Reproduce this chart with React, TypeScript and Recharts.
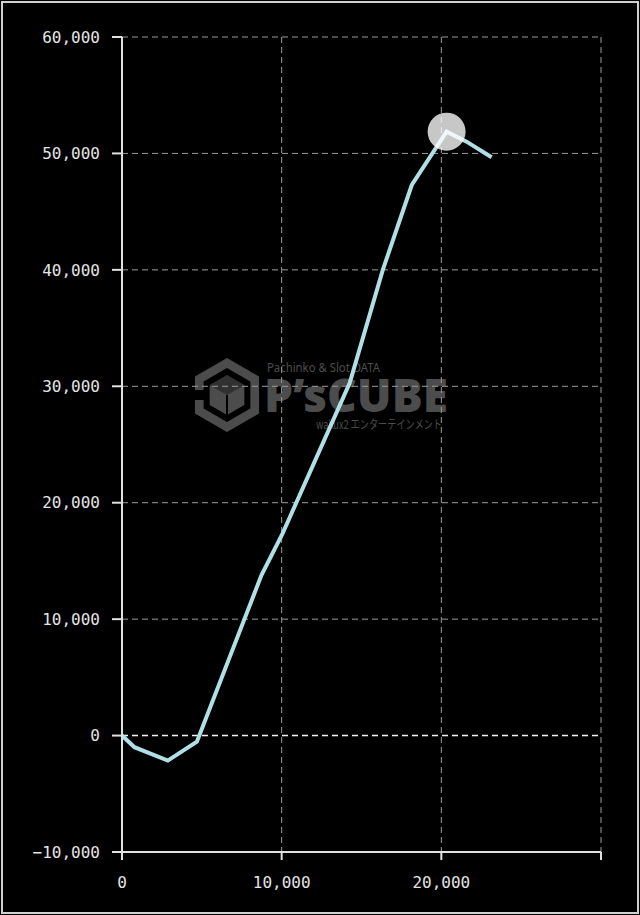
import { LineChart, Line, XAxis, YAxis, CartesianGrid, ReferenceLine, ReferenceDot } from "recharts";

// games played vs. medal difference
const games = [0, 780, 2870, 4690, 8730, 10060, 14260, 16330, 18150, 20330, 21580, 23150];
const diff = [0, -1000, -2150, -520, 13760, 17370, 30270, 39980, 47290, 51870, 51010, 49670];
const xTicks = [0, 10000, 20000, 30000];
const yTicks = [-10000, 0, 10000, 20000, 30000, 40000, 50000, 60000];

const data = games.map((g, i) => ({ g, d: diff[i] }));

const fmt = (v: number) =>
  v < 0 ? "\u2212" + Math.abs(v).toLocaleString("en-US") : v.toLocaleString("en-US");

const tickStyle = { fill: "#e4e4e4", fontSize: 16, fontFamily: "DejaVu Sans Mono" };
const lineStyle = { stroke: "#e0e0e0", strokeWidth: 2 };

function Watermark() {
  const c = "#4c4c4c";
  const hex = (cx: number, cy: number, r: number) =>
    [0, 1, 2, 3, 4, 5]
      .map((k) => {
        const a = (Math.PI / 3) * k - Math.PI / 2;
        return `${cx + r * Math.cos(a)},${cy + r * Math.sin(a)}`;
      })
      .join(" ");
  return (
    <svg width={640} height={915} style={{ position: "absolute", left: 0, top: 0 }}>
      <polygon points={hex(227, 395, 37)} fill={c} />
      <polygon points={hex(227, 395, 27)} fill="#000" />
      <polygon points={hex(227, 395, 20)} fill={c} />
      <polygon points="227,375 245,385 227,395 209,385" fill="#000" opacity={0.35} />
      <line x1={227} y1={395} x2={227} y2={415} stroke="#000" strokeWidth={2} />
      <rect x={188} y={390} width={16} height={10} fill="#000" />
      <text x={267} y={372} fontSize={12} fill={c} fontFamily="Noto Sans" textLength={113} lengthAdjust="spacingAndGlyphs">
        Pachinko &amp; Slot DATA
      </text>
      <text x={264} y={412} fontSize={46} fontWeight={900} fill={c} fontFamily="Noto Sans" textLength={184} lengthAdjust="spacingAndGlyphs">
        P’sCUBE
      </text>
      <text x={316} y={429} fontSize={12} fill={c} fontFamily="Noto Sans CJK JP" textLength={126} lengthAdjust="spacingAndGlyphs">
        wakux2 エンターテインメント
      </text>
    </svg>
  );
}

export default function App() {
  return (
    <div style={{ position: "absolute", left: 0, top: 0, width: 640, height: 915, background: "#000" }}>
      <div
        style={{
          position: "absolute",
          left: 1,
          top: 1,
          width: 634,
          height: 909,
          border: "2px solid #d0d0d0",
        }}
      />
      <Watermark />
      <div style={{ position: "absolute", left: 0, top: 0 }}>
        <LineChart width={640} height={915} data={data} margin={{ top: 37, right: 39, bottom: 23, left: 22 }}>
          <CartesianGrid stroke="#9c9c9c" strokeDasharray="6 4" />
          <XAxis
            dataKey="g"
            type="number"
            domain={[0, 30000]}
            ticks={xTicks}
            interval={0}
            height={40}
            tickFormatter={(v: number) => (v === 30000 ? "" : fmt(v))}
            tick={tickStyle}
            tickSize={8}
            tickMargin={17}
            axisLine={lineStyle}
            tickLine={lineStyle}
          />
          <YAxis
            type="number"
            domain={[-10000, 60000]}
            ticks={yTicks}
            interval={0}
            width={100}
            tickFormatter={fmt}
            tick={tickStyle}
            tickSize={10}
            tickMargin={12}
            axisLine={lineStyle}
            tickLine={lineStyle}
          />
          <ReferenceLine y={0} stroke="#f2f2f2" strokeDasharray="6 4" strokeWidth={1.5} />
          <Line
            type="linear"
            dataKey="d"
            stroke="#b0e0e6"
            strokeWidth={4}
            dot={false}
            activeDot={false}
            isAnimationActive={false}
          />
          <ReferenceDot x={20330} y={51870} r={19} fill="#ffffff" fillOpacity={0.78} stroke="none" />
        </LineChart>
      </div>
    </div>
  );
}
